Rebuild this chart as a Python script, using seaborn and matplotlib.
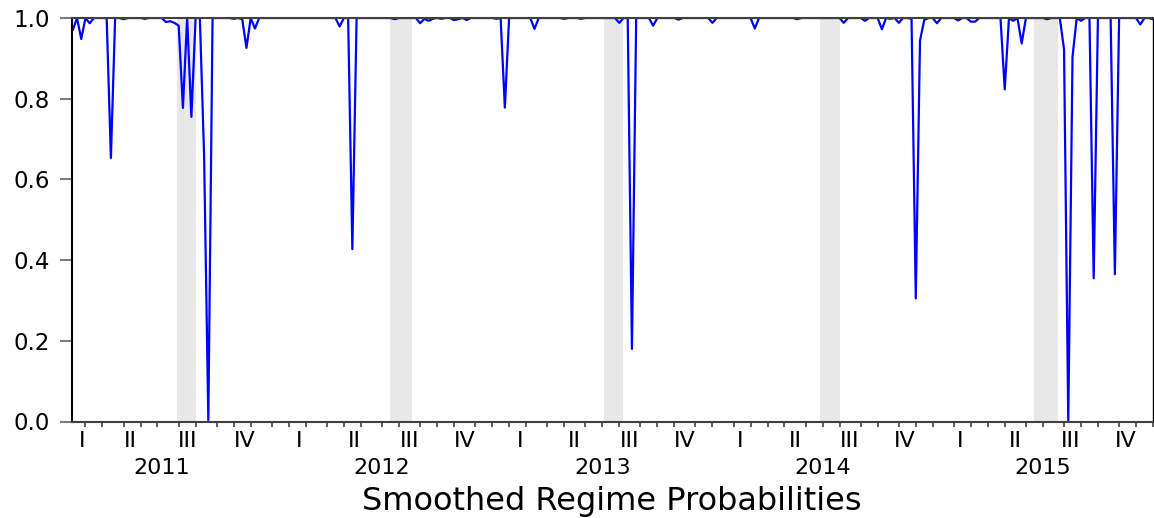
import numpy as np
import pandas as pd
import matplotlib
matplotlib.use("Agg")
import matplotlib.pyplot as plt
import matplotlib.transforms as mtransforms
import seaborn as sns

# ---------------- data ----------------
start_date = "2011-02-11"          # first weekly observation (Fridays)
probability = [
    0.97, 1, 0.948, 1, 0.987, 1, 1, 1, 1, 0.653,
    1, 1, 0.997, 1, 1, 1, 1, 0.998, 1, 1,
    1, 1, 0.99, 0.992, 0.988, 0.981, 0.777, 1, 0.755, 1,
    1, 0.66, 0.003, 1, 1, 1, 1, 1, 0.998, 1,
    0.997, 0.926, 1, 0.974, 1, 1, 1, 1, 1, 1,
    1, 1, 1, 1, 1, 1, 1, 1, 1, 1,
    1, 1, 1, 0.979, 1, 1, 0.427, 1, 1, 1,
    1, 1, 1, 1, 1, 1, 0.997, 1, 1, 1,
    1, 1, 0.987, 0.998, 0.993, 0.998, 1, 0.998, 1, 1,
    0.995, 0.997, 1, 0.995, 1, 1, 1, 1, 1, 1,
    0.998, 1, 0.778, 1, 1, 1, 1, 1, 1, 0.973,
    1, 1, 1, 1, 1, 1, 0.998, 1, 1, 1,
    0.998, 1, 1, 1, 1, 1, 1, 1, 1, 0.988,
    1, 1, 0.18, 1, 1, 1, 1, 0.981, 1, 1,
    1, 1, 1, 0.996, 1, 1, 1, 1, 1, 1,
    1, 0.988, 1, 1, 1, 1, 1, 1, 1, 1,
    1, 0.974, 1, 1, 1, 1, 1, 1, 1, 1,
    1, 0.997, 1, 1, 1, 1, 1, 1, 1, 1,
    1, 1, 0.988, 1, 1, 1, 1, 0.993, 1, 1,
    1, 0.972, 1, 0.998, 1, 0.988, 1, 1, 0.998, 0.305,
    0.944, 0.995, 1, 1, 0.987, 1, 1, 1, 1, 0.994,
    1, 1, 0.991, 0.991, 1, 1, 1, 1, 1, 1,
    0.823, 1, 0.993, 1, 0.937, 1, 1, 1, 1, 1,
    0.997, 1, 1, 1, 0.922, 0.0, 0.904, 1, 0.993, 1,
    1, 0.355, 1, 1, 1, 1, 0.365, 1, 1, 1,
    1, 1, 0.984, 1, 1, 0.997,
]
# shaded observation ranges (observation index)
shade_start = [24.5, 75.0, 125.5, 176.5, 227.0]
shade_end = [29.0, 80.0, 130.0, 181.0, 232.5]
quarter_names = ["I", "II", "III", "IV"]
y_ticks = [0.0, 0.2, 0.4, 0.6, 0.8, 1.0]
y_tick_labels = ["0.0", "0.2", "0.4", "0.6", "0.8", "1.0"]
title_text = "Smoothed Regime Probabilities"

# ---------------- derived ----------------
n = len(probability)
dates = pd.date_range(start_date, periods=n, freq="7D")
obs = np.arange(n)
df = pd.DataFrame({"obs": obs, "prob": probability})

month_ticks = [i for i in range(1, n) if dates[i].month != dates[i - 1].month]
q_bounds = [0] + [i for i in month_ticks if dates[i].month in (1, 4, 7, 10)] + [n - 1]

start = pd.Timestamp(start_date)
def first_obs_on_or_after(ts):
    return int(np.ceil((pd.Timestamp(ts) - start).days / 7))

# ---------------- style ----------------
sns.set_style("white")
plt.rcParams["font.family"] = ["DejaVu Sans"]

fig = plt.figure(figsize=(11.54, 5.18), dpi=100)
ax = fig.add_axes([71.5 / 1154, 1 - 421.5 / 518, (1153 - 71.5) / 1154, (421.5 - 18) / 518])

for a, b in zip(shade_start, shade_end):
    ax.axvspan(a, b, color="#e8e8e8", lw=0, zorder=0)

sns.lineplot(data=df, x="obs", y="prob", color="#0000ff", lw=1.6, ax=ax, zorder=2)

ax.set_xlim(-0.3, n - 1)
ax.set_ylim(0, 1)
ax.set_xlabel("")
ax.set_ylabel("")

ax.set_yticks(y_ticks)
ax.set_yticklabels(y_tick_labels, fontsize=16.5, color="black")
ax.tick_params(axis="y", direction="out", length=8.6, width=1.1, color="#555555", pad=7, left=True)

ax.set_xticks(month_ticks)
ax.set_xticklabels([])
ax.tick_params(axis="x", direction="out", length=3.8, width=1.1, color="#333333", bottom=True)

for side in ["left", "bottom", "top", "right"]:
    ax.spines[side].set_visible(True)
ax.spines["left"].set_color("black")
ax.spines["left"].set_linewidth(1.5)
ax.spines["bottom"].set_color("#404040")
ax.spines["bottom"].set_linewidth(1.5)
ax.spines["top"].set_color("#404040")
ax.spines["top"].set_linewidth(1.5)
ax.spines["right"].set_color("black")
ax.spines["right"].set_linewidth(1.0)

trans = mtransforms.blended_transform_factory(ax.transData, fig.transFigure)

# quarter labels
for a, b in zip(q_bounds[:-1], q_bounds[1:]):
    if b - a < 3:
        continue
    q = (dates[a].month - 1) // 3
    centre = (a + b) / 2
    if a == 0 and dates[0].month not in (1, 4, 7, 10):
        # partial first quarter: between the visible centre and the full-quarter centre
        full_start = first_obs_on_or_after(f"{dates[0].year}-{3 * q + 1:02d}-01")
        centre = ((a + b) / 2 + (full_start + b) / 2) / 2
    ax.text(centre, 1 - 447 / 518, quarter_names[q], transform=trans,
            ha="center", va="baseline", fontsize=16, color="black")

# year labels
for y in sorted(set(dates.year)):
    a = first_obs_on_or_after(f"{y}-01-01")
    b = first_obs_on_or_after(f"{y + 1}-01-01")
    if a >= n - 1:
        continue
    ax.text((a + b) / 2, 1 - 474.5 / 518, str(y), transform=trans,
            ha="center", va="baseline", fontsize=16, color="black")

ttrans = mtransforms.blended_transform_factory(ax.transAxes, fig.transFigure)
ax.text(0.5, 1 - 510 / 518, title_text, transform=ttrans, ha="center", va="baseline",
        fontsize=23, color="black")

fig.savefig("out.png", dpi=100, facecolor="white")
